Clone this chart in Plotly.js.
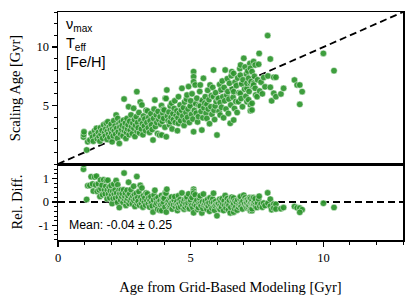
<!DOCTYPE html>
<html>
<head>
<meta charset="utf-8">
<script src="https://cdn.plot.ly/plotly-3.0.1.min.js"></script>
<style>html,body{margin:0;padding:0;background:#fff;}#chart{width:415px;height:295px;}</style>
</head>
<body>
<div id="chart"></div>
<script>
// Age from grid-based modeling [Gyr] and scaling-relation age [Gyr]
const gridAge = [
0.96,0.97,0.98,1.08,1.12,1.20,1.25,1.30,1.33,1.38,1.42,1.45,1.48,
1.52,1.55,1.58,1.60,1.62,1.66,1.68,1.72,1.75,1.78,1.80,1.82,1.85,1.86,1.88,1.90,1.93,1.95,1.97,2.00,
2.02,2.04,2.06,2.08,2.10,2.12,2.15,2.17,2.19,2.21,2.24,2.25,2.27,2.30,2.31,2.33,2.36,2.38,2.40,2.42,2.45,2.47,2.49,2.50,
2.52,2.54,2.56,2.58,2.60,2.62,2.64,2.66,2.68,2.70,2.72,2.75,2.77,2.80,2.82,2.85,2.86,2.88,2.90,2.92,2.95,2.97,2.98,3.00,
3.02,3.05,3.07,3.10,3.12,3.14,3.16,3.18,3.20,3.22,3.25,3.27,3.30,3.32,3.35,3.37,3.40,3.42,3.45,3.47,3.50,
3.52,3.55,3.58,3.60,3.62,3.65,3.67,3.70,3.72,3.75,3.77,3.80,3.83,3.85,3.87,3.90,3.91,3.93,3.95,3.97,3.98,
4.00,4.03,4.04,4.07,4.08,4.10,4.12,4.15,4.18,4.20,4.23,4.23,4.26,4.28,4.30,4.33,4.35,4.38,4.40,4.42,4.45,4.48,
4.50,4.52,4.54,4.54,4.57,4.60,4.62,4.65,4.67,4.70,4.73,4.75,4.77,4.79,4.82,4.84,4.86,4.88,4.90,4.92,4.95,4.98,
5.00,5.03,5.05,5.08,5.11,5.11,5.11,5.11,5.14,5.17,5.19,5.21,5.23,5.26,5.29,5.31,5.34,5.36,5.36,5.39,5.42,5.44,5.46,5.48,5.50,
5.53,5.55,5.58,5.61,5.61,5.64,5.66,5.69,5.71,5.73,5.76,5.78,5.80,5.83,5.86,5.86,5.88,5.90,5.92,5.94,5.96,5.99,
6.02,6.05,6.07,6.09,6.11,6.11,6.14,6.16,6.19,6.21,6.24,6.26,6.28,6.30,6.33,6.36,6.38,6.40,6.42,6.44,6.46,6.49,
6.51,6.53,6.55,6.57,6.60,6.62,6.62,6.62,6.65,6.67,6.70,6.72,6.75,6.77,6.80,6.82,6.85,6.87,6.87,6.88,6.90,6.92,6.95,6.97,7.00,
7.03,7.05,7.08,7.10,7.12,7.12,7.12,7.15,7.18,7.18,7.20,7.23,7.25,7.25,7.25,7.25,7.28,7.31,7.31,7.31,7.34,7.37,7.37,7.37,7.40,7.43,7.43,7.45,
7.50,7.52,7.56,7.58,7.60,7.65,7.70,7.75,7.80,7.90,7.91,8.00,8.00,8.05,8.13,8.13,8.21,8.21,
8.40,8.50,8.91,9.01,9.11,9.20,9.11,10.00,10.40
];
const scalingAge = [
2.30,2.52,2.75,1.20,1.90,2.05,2.60,2.30,1.95,2.85,2.45,3.05,2.15,
2.70,2.35,1.95,3.10,2.55,2.85,2.20,3.35,2.65,2.40,3.00,3.48,2.10,2.80,3.62,2.55,3.15,2.30,2.90,3.40,
2.65,1.90,3.00,2.40,3.70,2.85,3.25,2.55,4.19,3.05,2.20,3.90,2.75,3.45,1.76,3.15,2.55,3.60,2.95,3.30,2.40,3.75,5.56,2.85,
3.15,3.50,2.19,2.70,3.90,3.00,3.35,4.90,2.50,3.65,2.90,4.20,3.20,2.60,3.50,4.76,3.05,3.80,2.35,3.30,4.05,6.19,2.80,3.55,
3.10,4.40,2.65,5.30,3.75,3.00,5.05,3.45,2.50,4.10,3.25,3.85,2.85,4.60,3.55,4.54,3.10,4.00,2.70,3.70,4.30,
3.35,2.95,2.05,3.90,4.70,5.47,3.20,4.20,3.55,2.60,4.50,3.80,2.48,4.05,3.40,5.00,2.48,3.65,4.35,4.68,3.90,
4.62,3.15,5.62,5.60,2.33,6.33,4.10,3.70,4.45,3.35,4.96,3.62,4.00,5.20,3.00,4.30,3.80,4.75,5.40,3.55,4.15,4.54,
2.85,3.95,5.76,3.47,4.35,5.05,3.70,4.60,6.47,4.10,4.82,3.30,5.30,3.76,4.40,5.55,5.90,4.00,4.70,6.62,3.55,4.96,
5.40,4.25,6.00,3.85,7.90,7.46,7.04,2.76,4.60,6.76,5.15,4.35,5.62,3.60,4.05,5.00,6.20,6.76,4.96,4.50,2.90,5.45,3.95,7.33,4.80,
5.20,5.76,4.35,5.10,3.90,6.30,4.70,5.50,3.45,6.76,4.90,5.85,4.25,6.55,5.76,8.04,4.60,3.80,4.96,6.10,5.35,2.48,
5.60,5.62,4.50,6.80,5.25,4.19,6.35,4.85,7.10,5.75,3.95,6.55,5.40,8.04,4.70,5.90,7.30,6.20,4.33,5.55,6.90,3.48,
5.05,7.55,7.90,6.40,5.70,7.75,6.19,3.76,4.75,7.00,5.35,6.70,4.40,7.35,5.33,6.10,8.15,7.60,6.04,8.47,5.60,6.85,4.90,7.20,9.04,
6.40,8.30,5.80,7.70,6.47,6.90,5.33,7.95,7.33,5.50,6.20,8.60,8.19,6.90,5.05,4.56,7.05,7.90,4.62,5.19,6.65,8.76,6.90,6.76,7.50,8.47,6.47,5.90,
5.76,7.20,8.53,9.46,6.24,7.00,6.00,7.40,6.60,10.98,7.53,8.98,6.56,5.40,7.42,6.05,7.42,5.76,
5.99,6.47,7.18,6.76,6.76,6.19,5.10,9.46,7.98
];
// relative difference (scaling - grid) / grid
const relDiff = gridAge.map((g, i) => (scalingAge[i] - g) / g);
// reference lines
const oneToOne = [0, 13];
const zeroLineX = [0, 13];
const zeroLineY = [0, 0];
const topTicks = [5, 10];
const relTicks = [-1, 0, 1];
const xTicks = [0, 5, 10];

const green = 'rgba(46,150,46,0.92)';
const mk = {color: green, size: 6.5, line: {color: 'rgba(255,255,255,0.8)', width: 0.6}};
const dashLine = {color: 'black', width: 1.8, dash: '7px,4px'};

const traces = [
  {x: oneToOne, y: oneToOne, mode: 'lines', line: dashLine, xaxis: 'x2', yaxis: 'y', hoverinfo: 'skip'},
  {x: gridAge, y: scalingAge, mode: 'markers', marker: mk, xaxis: 'x2', yaxis: 'y'},
  {x: zeroLineX, y: zeroLineY, mode: 'lines', line: dashLine, xaxis: 'x', yaxis: 'y2', hoverinfo: 'skip'},
  {x: gridAge, y: relDiff, mode: 'markers', marker: mk, xaxis: 'x', yaxis: 'y2'}
];

const serif = 'Liberation Serif, Times New Roman, serif';
const sans = 'Liberation Sans, Arial, sans-serif';
const axLine = {showline: true, linecolor: 'black', linewidth: 1.5, mirror: true, showgrid: false, zeroline: false};

const layout = {
  width: 415, height: 295,
  margin: {l: 58, r: 12, t: 12, b: 55},
  paper_bgcolor: 'white', plot_bgcolor: 'white',
  showlegend: false,
  font: {family: serif, color: 'black', size: 12},
  xaxis: Object.assign({}, axLine, {
    anchor: 'y2', domain: [0, 1], range: [0, 13],
    tickmode: 'array', tickvals: xTicks, ticktext: xTicks.map(String),
    ticks: 'outside', ticklen: 5, tickwidth: 1.2, tickcolor: 'black',
    minor: {ticks: 'outside', ticklen: 3, tickwidth: 1, dtick: 1, tick0: 0, tickcolor: 'black', showgrid: false},
    tickfont: {family: serif, size: 12.5},
    title: {text: 'Age from Grid-Based Modeling [Gyr]', font: {family: serif, size: 14.5}, standoff: 18}
  }),
  xaxis2: Object.assign({}, axLine, {
    anchor: 'y', matches: 'x', range: [0, 13], showticklabels: false, ticks: ''
  }),
  yaxis: Object.assign({}, axLine, {
    anchor: 'x2', domain: [0.3333, 1], range: [0, 13],
    tickmode: 'array', tickvals: topTicks, ticktext: topTicks.map(String),
    ticks: 'outside', ticklen: 5, tickwidth: 1.2, tickcolor: 'black',
    minor: {ticks: 'outside', ticklen: 3, tickwidth: 1, dtick: 1, tick0: 0, tickcolor: 'black', showgrid: false},
    tickfont: {family: serif, size: 12.5},
    title: {text: 'Scaling Age [Gyr]', font: {family: serif, size: 14.5}, standoff: 12}
  }),
  yaxis2: Object.assign({}, axLine, {
    anchor: 'x', domain: [0, 0.3333], range: [-1.62, 1.62],
    tickmode: 'array', tickvals: relTicks, ticktext: relTicks.map(String),
    ticks: 'outside', ticklen: 5, tickwidth: 1.2, tickcolor: 'black',
    minor: {ticks: 'outside', ticklen: 3, tickwidth: 1, dtick: 0.2, tick0: 0, tickcolor: 'black', showgrid: false},
    tickfont: {family: serif, size: 12.5},
    title: {text: 'Rel. Diff.', font: {family: serif, size: 14.5}, standoff: 12}
  }),
  annotations: [
    {xref: 'x2 domain', yref: 'y domain', x: 0.018, y: 0.99, xanchor: 'left', yanchor: 'top', align: 'left', showarrow: false,
     text: 'ν<sub>max</sub><br>T<sub>eff</sub><br>[Fe/H]', font: {family: sans, size: 14.5, color: 'black'}},
    {xref: 'x domain', yref: 'y2 domain', x: 0.025, y: 0.08, xanchor: 'left', yanchor: 'bottom', showarrow: false,
     text: 'Mean: -0.04 ± 0.25', font: {family: sans, size: 12.3, color: 'black'}}
  ]
};

Plotly.newPlot('chart', traces, layout, {displayModeBar: false, staticPlot: true});
</script>
</body>
</html>
